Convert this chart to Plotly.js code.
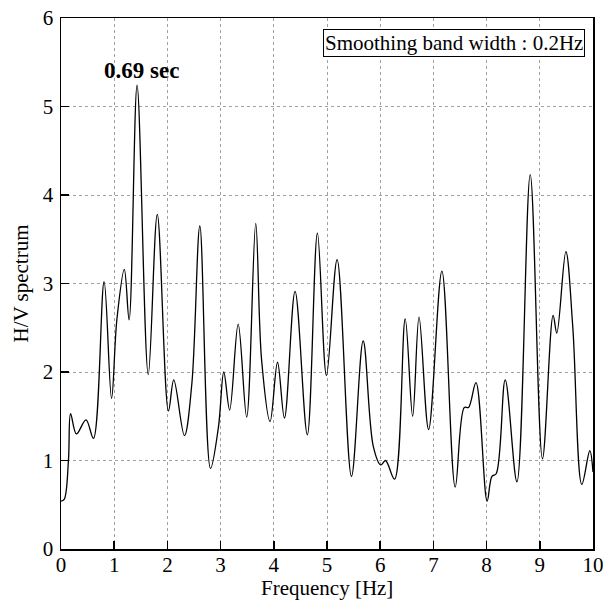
<!DOCTYPE html>
<html>
<head>
<meta charset="utf-8">
<script src="https://cdn.plot.ly/plotly-3.0.1.min.js"></script>
<style>html,body{margin:0;padding:0;background:#fff;}#chart{width:603px;height:602px;}</style>
</head>
<body>
<div id="chart"></div>
<script>
const freq = [0, 0.06, 0.14, 0.18, 0.29, 0.47, 0.61, 0.81, 0.95, 1.05,
  1.19, 1.28, 1.43, 1.64, 1.81, 2.02, 2.12, 2.32, 2.46, 2.61,
  2.81, 2.96, 3.06, 3.17, 3.33, 3.49, 3.66, 3.77, 3.93, 4.07,
  4.20, 4.40, 4.63, 4.82, 4.99, 5.19, 5.46, 5.68, 5.87, 6.01,
  6.10, 6.27, 6.47, 6.61, 6.73, 6.91, 7.16, 7.41, 7.58, 7.66,
  7.80, 8.01, 8.10, 8.18, 8.35, 8.57, 8.82, 9.05, 9.25, 9.32,
  9.49, 9.62, 9.79, 9.94, 10];
const hv = [0.54, 0.56, 1.0, 1.53, 1.30, 1.46, 1.25, 3.02, 1.70, 2.59,
  3.16, 2.59, 5.24, 1.97, 3.78, 1.56, 1.91, 1.28, 1.87, 3.65,
  0.91, 1.38, 2.0, 1.57, 2.54, 1.49, 3.68, 2.14, 1.44, 2.11,
  1.48, 2.91, 1.29, 3.57, 1.96, 3.27, 0.82, 2.35, 1.16, 0.95,
  1.0, 0.79, 2.60, 1.50, 2.62, 1.35, 3.14, 0.70, 1.60, 1.60,
  1.88, 0.54, 0.82, 0.85, 1.91, 0.76, 4.23, 1.02, 2.64, 2.44,
  3.36, 2.51, 0.73, 1.11, 0.87];
const xTicks = [0,1,2,3,4,5,6,7,8,9,10];
const yTicks = [0,1,2,3,4,5,6];
const xTitle = "Frequency [Hz]";
const yTitle = "H/V spectrum";
const peakLabel = "0.69 sec";
const peakPos = [1.52, 5.41];
const boxLabel = "Smoothing band width : 0.2Hz";

const font = "Liberation Serif, Times New Roman, serif";
const axisCommon = {
  showline: true, mirror: true, linecolor: "#000", linewidth: 1.5,
  ticks: "inside", ticklen: 8, tickwidth: 1.5, tickcolor: "#000",
  showgrid: true, gridcolor: "#a0a0a0", gridwidth: 1, griddash: "3px,3px",
  zeroline: false, ticklabeloverflow: "allow",
  tickfont: {family: font, size: 21, color: "#000"}
};
const layout = {
  width: 603, height: 602,
  margin: {l: 61, r: 10, t: 18, b: 53},
  paper_bgcolor: "#fff", plot_bgcolor: "#fff",
  showlegend: false,
  font: {family: font, color: "#000"},
  xaxis: Object.assign({}, axisCommon, {
    range: [0, 10], tickmode: "array", tickvals: xTicks, ticktext: xTicks.map(String),
    ticklabelstandoff: -4
  }),
  yaxis: Object.assign({}, axisCommon, {
    range: [0, 6], tickmode: "array", tickvals: yTicks, ticktext: yTicks.map(String),
    ticklabelstandoff: 2,
    title: {text: yTitle, font: {family: font, size: 21, color: "#000"}, standoff: 8}
  }),
  annotations: [
    {x: 0.5, y: -53 / 531, xref: "paper", yref: "paper", xanchor: "center", yanchor: "bottom",
     yshift: 0, text: xTitle, showarrow: false,
     font: {family: font, size: 21, color: "#000"}},
    {x: peakPos[0], y: peakPos[1], xref: "x", yref: "y", text: "<b>" + peakLabel + "</b>",
     showarrow: false, font: {family: font, size: 23, color: "#000"}},
    {x: 1, y: 1, xref: "paper", yref: "paper", xanchor: "right", yanchor: "top",
     xshift: -8, yshift: -11, text: boxLabel, showarrow: false,
     bordercolor: "#000", borderwidth: 1, borderpad: 1, bgcolor: "#fff",
     font: {family: font, size: 21, color: "#000"}}
  ]
};
const trace = {
  x: freq, y: hv, type: "scatter", mode: "lines",
  line: {color: "#000", width: 1.3, shape: "spline", smoothing: 1}
};
Plotly.newPlot("chart", [trace], layout, {staticPlot: true});
</script>
</body>
</html>
